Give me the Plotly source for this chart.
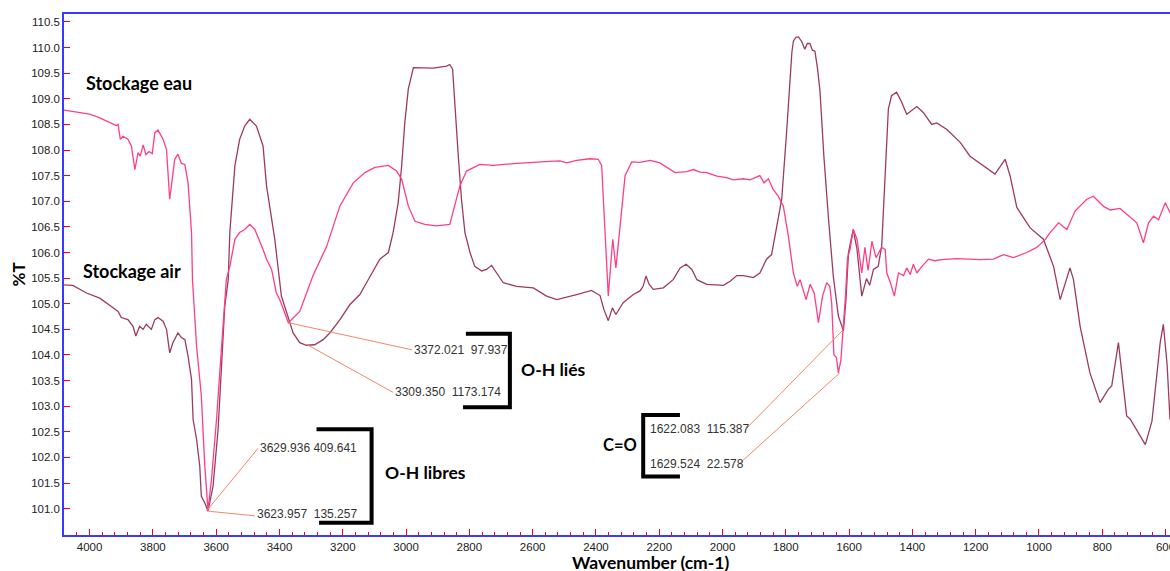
import plotly.graph_objects as go

# ---------------- data ----------------
eau_wn = [4081, 4000, 3968, 3937, 3916, 3910, 3903, 3895, 3879, 3868, 3857, 3847, 3840, 3831, 3822,
          3812, 3802, 3794, 3784, 3768, 3757, 3747, 3731, 3721, 3710, 3699, 3689, 3678, 3675, 3662,
          3647, 3636, 3626, 3615, 3599, 3583, 3568, 3557, 3541, 3526, 3510, 3494, 3478, 3452, 3441,
          3425, 3410, 3399, 3372, 3336, 3294, 3251, 3209, 3167, 3130, 3099, 3056, 3030, 3014, 2993,
          2972, 2941, 2904, 2862, 2846, 2830, 2809, 2767, 2725, 2651, 2546, 2514, 2493, 2461, 2419,
          2393, 2382, 2371, 2361, 2347, 2337, 2324, 2308, 2287, 2261, 2229, 2198, 2150, 2113, 2092,
          2071, 2050, 2018, 1987, 1966, 1934, 1913, 1882, 1869, 1855, 1840, 1824, 1808, 1792, 1776,
          1764, 1755, 1736, 1723, 1710, 1697, 1684, 1671, 1661, 1655, 1648, 1640, 1634, 1626, 1618,
          1612, 1605, 1597, 1587, 1575, 1560, 1550, 1540, 1528, 1515, 1497, 1486, 1481, 1470, 1457,
          1444, 1428, 1418, 1407, 1397, 1386, 1370, 1349, 1330, 1307, 1260, 1186, 1144, 1112, 1081,
          1039, 1007, 979, 965, 938, 912, 886, 849, 828, 796, 775, 744, 722, 691, 670,
          654, 638, 622, 601, 586]
eau_T = [108.78, 108.70, 108.63, 108.55, 108.48, 108.50, 108.21, 108.27, 108.21, 108.08, 107.62, 107.95, 107.88, 108.10, 107.91,
         107.97, 107.93, 108.34, 108.39, 108.21, 108.01, 107.04, 107.82, 107.92, 107.74, 107.72, 107.36, 106.39, 105.47, 104.17,
         103.20, 101.83, 100.97, 101.57, 102.74, 104.17, 105.47, 105.73, 106.26, 106.39, 106.45, 106.55, 106.45, 106.06, 105.87,
         105.67, 105.21, 105.08, 104.63, 104.85, 105.55, 106.12, 106.91, 107.36, 107.56, 107.66, 107.70, 107.59, 107.43, 106.91,
         106.61, 106.55, 106.52, 106.55, 106.91, 107.30, 107.59, 107.72, 107.70, 107.74, 107.78, 107.79, 107.75, 107.80, 107.83,
         107.82, 107.70, 106.26, 105.15, 106.26, 105.70, 106.50, 107.50, 107.77, 107.76, 107.80, 107.75, 107.56, 107.58, 107.62,
         107.57, 107.56, 107.49, 107.46, 107.42, 107.44, 107.42, 107.50, 107.36, 107.44, 107.23, 107.10, 106.91, 106.32, 105.60,
         105.34, 105.47, 105.08, 105.38, 105.20, 104.63, 105.15, 105.41, 105.34, 105.00, 104.00, 103.95, 103.65, 103.90, 104.60,
         105.10, 105.90, 106.06, 106.45, 106.26, 105.60, 106.10, 105.65, 106.22, 105.90, 106.10, 106.06, 105.60, 105.42, 105.15,
         105.60, 105.55, 105.70, 105.57, 105.77, 105.60, 105.73, 105.87, 105.84, 105.86, 105.88, 105.86, 105.87, 105.96, 105.90,
         106.00, 106.10, 106.26, 106.39, 106.58, 106.45, 106.81, 107.04, 107.10, 106.90, 106.83, 106.86, 106.74, 106.58, 106.19,
         106.58, 106.71, 106.64, 106.97, 106.78]

air_wn = [4081, 4053, 4010, 3968, 3926, 3910, 3900, 3879, 3863, 3854, 3842, 3831, 3821, 3805, 3794,
          3784, 3768, 3757, 3747, 3737, 3721, 3710, 3699, 3689, 3678, 3673, 3662, 3652, 3647, 3636,
          3626, 3610, 3594, 3583, 3573, 3562, 3557, 3541, 3526, 3510, 3494, 3473, 3452, 3441, 3431,
          3415, 3394, 3378, 3357, 3336, 3315, 3289, 3262, 3241, 3209, 3178, 3146, 3125, 3083, 3056,
          3041, 3025, 3014, 3004, 2993, 2977, 2946, 2914, 2872, 2862, 2853, 2846, 2835, 2825, 2814,
          2798, 2783, 2761, 2746, 2730, 2714, 2693, 2651, 2598, 2556, 2524, 2461, 2414, 2387, 2375,
          2361, 2348, 2337, 2314, 2282, 2261, 2251, 2242, 2232, 2219, 2187, 2156, 2134, 2115, 2097,
          2081, 2050, 1997, 1976, 1955, 1934, 1903, 1882, 1861, 1845, 1829, 1813, 1797, 1781, 1776,
          1768, 1760, 1750, 1740, 1732, 1724, 1716, 1708, 1700, 1692, 1680, 1665, 1650, 1639, 1634,
          1618, 1610, 1602, 1587, 1575, 1560, 1545, 1535, 1523, 1508, 1497, 1486, 1476, 1466, 1450,
          1435, 1418, 1386, 1365, 1339, 1323, 1291, 1249, 1218, 1176, 1139, 1107, 1091, 1070, 1028,
          986, 954, 933, 902, 891, 870, 839, 807, 781, 770, 749, 723, 712, 664, 643,
          617, 607, 595, 586]
air_T = [105.37, 105.36, 105.21, 105.11, 104.92, 104.85, 104.73, 104.69, 104.56, 104.37, 104.56, 104.50, 104.60, 104.50, 104.69,
         104.73, 104.66, 104.50, 104.04, 104.24, 104.43, 104.34, 104.30, 103.98, 103.52, 102.74, 102.35, 101.83, 101.24, 101.11,
         100.95, 101.44, 102.55, 103.85, 104.95, 105.47, 106.39, 107.69, 108.21, 108.47, 108.60, 108.47, 108.08, 107.30, 106.91,
         106.26, 105.15, 104.82, 104.43, 104.24, 104.19, 104.20, 104.30, 104.43, 104.69, 104.98, 105.18, 105.41, 105.87, 106.00,
         106.39, 106.97, 107.69, 108.54, 109.19, 109.61, 109.61, 109.60, 109.64, 109.67, 109.58, 108.86, 107.88, 107.04, 106.39,
         106.00, 105.73, 105.64, 105.67, 105.75, 105.60, 105.41, 105.34, 105.31, 105.15, 105.08, 105.18, 105.26, 105.16, 104.89,
         104.67, 104.92, 104.79, 105.02, 105.18, 105.25, 105.34, 105.54, 105.38, 105.28, 105.31, 105.47, 105.70, 105.77, 105.67,
         105.47, 105.38, 105.36, 105.44, 105.55, 105.55, 105.51, 105.60, 105.87, 105.96, 106.52, 107.04, 108.40, 109.90, 110.13,
         110.20, 110.21, 110.12, 109.97, 110.08, 110.08, 109.95, 109.93, 109.60, 109.15, 107.90, 106.65, 105.54, 105.00, 104.76,
         104.47, 105.08, 106.00, 106.45, 106.06, 105.15, 105.49, 105.36, 105.67, 105.73, 106.13, 107.50, 108.80, 109.06, 109.13,
         108.95, 108.70, 108.85, 108.73, 108.50, 108.53, 108.40, 108.15, 107.88, 107.69, 107.53, 107.82, 107.49, 106.88, 106.48,
         106.26, 105.73, 105.08, 105.70, 105.47, 104.56, 103.65, 103.07, 103.33, 103.40, 104.24, 102.81, 102.75, 102.25, 102.71,
         104.24, 104.60, 103.80, 102.74]

# picked peaks: (wavenumber, %T on curve) and their labels
peak_wn = [3629.936, 3623.957, 3372.021, 3309.350, 1622.083, 1629.524]
peak_T = [100.96, 100.95, 104.63, 104.19, 104.47, 103.65]
peak_text = ["3629.936 409.641", "3623.957\u00a0 135.257", "3372.021\u00a0 97.937",
             "3309.350\u00a0 1173.174", "1622.083\u00a0 115.387", "1629.524\u00a0 22.578"]
label_wn = [3467.7, 3478.2, 2980.9, 3041.0, 1923.8, 1945.0]
label_T = [102.18, 100.86, 104.10, 103.27, 102.57, 101.89]
text_wn = [3467.7, 3478.2, 2980.9, 3041.0, 2234.9, 2234.9]
text_T = [102.19, 100.89, 104.10, 103.27, 102.55, 101.87]

x_ticks = list(range(600, 4001, 200))
y_ticks = [101.0 + 0.5 * i for i in range(20)]

PINK = "#ff3d88"
MAROON = "#9c3b5e"
BLUE = "#3a3aff"
LEADER = "#f4866a"

fig = go.Figure()
fig.add_trace(go.Scatter(x=air_wn, y=air_T, mode="lines", name="Stockage air",
                         line=dict(color=MAROON, width=1.3), hoverinfo="skip"))
fig.add_trace(go.Scatter(x=eau_wn, y=eau_T, mode="lines", name="Stockage eau",
                         line=dict(color=PINK, width=1.3), hoverinfo="skip"))

shapes = []
for pw, pt, lw, lt in zip(peak_wn, peak_T, label_wn, label_T):
    shapes.append(dict(type="line", xref="x", yref="y", x0=pw, y0=pt, x1=lw, y1=lt,
                       line=dict(color=LEADER, width=1)))

# brackets
bk = dict(color="black", width=4)
shapes.append(dict(type="path", xref="x", yref="y",
                   path="M 3283,102.55 L 3109,102.55 L 3109,100.727 L 3275,100.727", line=bk))
shapes.append(dict(type="path", xref="x", yref="y",
                   path="M 2811,104.415 L 2672,104.415 L 2672,102.98 L 2820,102.98", line=bk))
shapes.append(dict(type="path", xref="x", yref="y",
                   path="M 2134.6,102.83 L 2250.7,102.83 L 2250.7,101.626 L 2134.6,101.626", line=bk))

annotations = []
for t, tw, tt in zip(peak_text, text_wn, text_T):
    annotations.append(dict(x=tw, y=tt, xref="x", yref="y", text=t, showarrow=False,
                            xanchor="left", yanchor="middle",
                            font=dict(family="Liberation Sans, Arial", size=12, color="#333333")))

FAM = "Lato, Open Sans, sans-serif"
for txt, xw, yt, sz in [("Stockage eau", 4019, 109.30, 18), ("Stockage air", 4028, 105.64, 18),
                        ("O-H libres", 3073.5, 101.70, 17.5), ("O-H liés", 2643.6, 103.71, 17.5),
                        ("C=O", 2385.3, 102.245, 16.5)]:
    annotations.append(dict(x=xw, y=yt, xref="x", yref="y", text=txt, showarrow=False,
                            xanchor="left", yanchor="middle",
                            font=dict(family=FAM, size=sz, color="black", weight="bold")))

annotations.append(dict(x=0.53, y=0, xref="paper", yref="paper", yshift=-27, borderpad=0,
                        text="Wavenumber (cm-1)", showarrow=False, xanchor="center", yanchor="middle",
                        font=dict(family=FAM, size=17.5, color="black", weight="bold")))
annotations.append(dict(x=0, y=0.5, xref="paper", yref="paper", xshift=-46,
                        text="%T", showarrow=False, textangle=-90, xanchor="center", yanchor="middle",
                        font=dict(family=FAM, size=17, color="black", weight="bold")))

fig.update_layout(
    width=1170, height=571,
    margin=dict(l=64, r=0, t=14, b=36),
    paper_bgcolor="white", plot_bgcolor="white",
    showlegend=False,
    shapes=shapes, annotations=annotations,
    xaxis=dict(range=[4081, 586], tickmode="array", tickvals=x_ticks,
               ticktext=[str(v) for v in x_ticks],
               showgrid=False, zeroline=False, showline=True, linecolor=BLUE, linewidth=1.5,
               mirror=True, ticks="inside", ticklen=6, tickcolor="red", tickwidth=1,
               minor=dict(dtick=40, tick0=0, ticks="inside", ticklen=3, tickcolor="red", tickwidth=1, showgrid=False),
               tickfont=dict(family="Liberation Sans, Arial", size=11.5, color="#222222"),
               ticklabeloverflow="allow", automargin=False),
    yaxis=dict(range=[100.486, 110.656], tickmode="array", tickvals=y_ticks,
               ticktext=[f"{v:.1f}" for v in y_ticks],
               showgrid=False, zeroline=False, showline=True, linecolor=BLUE, linewidth=1.5,
               ticks="inside", ticklen=6, tickcolor="red", tickwidth=1,
               tickfont=dict(family="Liberation Sans, Arial", size=11.5, color="#222222"),
               ticklabeloverflow="allow", automargin=False),
)

fig.write_html("out.html", config={"displayModeBar": False},
               post_script="document.body.style.margin='0px';document.body.style.overflow='hidden';")
